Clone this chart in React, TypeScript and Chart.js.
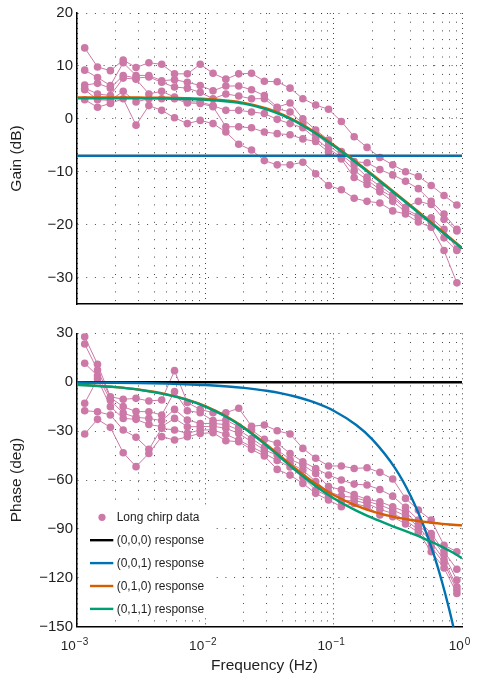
import React, { useEffect, useRef } from "react";
import { Chart, registerables } from "chart.js";

Chart.register(...registerables);

// ---------------- data ----------------
const CHIRP_FREQ = [
  0.001148, 0.001445, 0.00182, 0.002291, 0.002884, 0.003631, 0.004571, 0.005754, 0.007244, 0.00912,
  0.01148, 0.01445, 0.0182, 0.02291, 0.02884, 0.03631, 0.04571, 0.05754, 0.07244, 0.0912,
  0.1148, 0.1445, 0.182, 0.2291, 0.2884, 0.3631, 0.4571, 0.5754, 0.7244, 0.912,
];

const GAIN_RUN_1 = [13.4, 9.8, 9.1, 11.1, 9.7, 10.6, 10.3, 8.5, 8.5, 10.3, 8.6, 7.5, 8.5, 8.6, 7.1, 7.0, 5.8, 3.8, 2.6, 1.8, -0.5, -3.4, -5.4, -7.3, -8.7, -10.0, -10.9, -12.6, -14.5, -16.3];
const GAIN_RUN_2 = [9.2, 7.8, 6.3, 10.6, 8.2, 8.2, 7.2, 7.4, 6.9, 6.3, 5.3, 6.2, 6.2, 5.5, 4.4, 2.2, 3.0, 0.0, -2.1, -4.0, -6.2, -8.1, -8.3, -9.6, -10.6, -11.8, -13.2, -15.6, -18.0, -20.9];
const GAIN_RUN_3 = [6.4, 6.7, 5.8, 8.2, 7.7, 7.9, 6.9, 6.0, 5.8, 5.0, 3.8, 4.7, 4.3, 3.8, 3.8, 1.9, 1.3, -0.9, -2.8, -5.0, -6.8, -8.7, -11.0, -12.7, -14.4, -16.7, -15.6, -16.2, -19.0, -21.2];
const GAIN_RUN_4 = [5.8, 4.7, 4.4, 7.7, 7.5, 4.7, 5.2, 4.1, 3.2, 3.2, 2.5, 1.6, 1.6, 1.3, 1.0, -0.1, -0.9, -1.7, -3.7, -5.7, -7.2, -9.8, -11.5, -13.4, -14.8, -17.1, -18.3, -18.7, -20.9, -24.6];
const GAIN_RUN_5 = [5.5, 3.6, 3.5, 5.2, 3.2, 3.8, 3.8, 3.8, 3.0, 2.9, 2.3, -1.5, -1.5, -1.7, -2.5, -2.8, -3.0, -3.8, -4.3, -6.3, -7.6, -11.1, -12.4, -13.8, -15.6, -17.6, -18.6, -19.5, -22.5, -24.9];
const GAIN_RUN_6 = [3.6, 2.2, 2.9, 3.8, -1.2, 2.5, 1.6, 0.2, -0.9, -0.3, -0.9, -2.5, -4.8, -5.9, -7.9, -8.7, -8.7, -8.2, -10.4, -12.6, -13.4, -15.0, -15.6, -15.9, -17.4, -18.0, -19.5, -20.5, -24.9, -31.0];

const PHASE_RUN_1 = [27.9, 11.0, -8.9, -10.5, -9.9, -11.5, -10.9, 7.1, -12.5, -16.7, -18.7, -18.7, -16.0, -27.0, -26.3, -29.8, -31.8, -40.6, -46.7, -51.4, -51.4, -52.9, -52.5, -55.3, -59.4, -71.3, -78.4, -84.6, -100.0, -104.0];
const PHASE_RUN_2 = [23.4, 7.5, -9.5, -15.0, -18.0, -18.1, -20.1, -5.8, -17.5, -18.7, -23.6, -23.2, -27.3, -29.3, -35.1, -37.5, -43.7, -48.8, -52.9, -57.0, -60.0, -62.5, -63.1, -65.8, -69.9, -76.8, -84.6, -92.8, -104.0, -114.8];
const PHASE_RUN_3 = [11.6, 4.0, -11.0, -19.0, -21.6, -22.2, -23.6, -16.7, -23.2, -25.3, -25.3, -26.0, -29.3, -34.5, -39.9, -41.6, -47.3, -50.8, -56.0, -64.0, -66.0, -69.0, -71.9, -73.3, -76.4, -79.5, -87.6, -94.8, -106.0, -121.4];
const PHASE_RUN_4 = [-12.9, 2.0, -15.0, -22.2, -22.8, -25.9, -27.3, -22.2, -27.3, -27.3, -27.0, -28.3, -31.4, -36.5, -41.6, -44.7, -49.8, -53.9, -61.0, -67.2, -69.9, -70.7, -73.0, -75.4, -78.4, -82.0, -88.7, -98.0, -109.0, -125.5];
const PHASE_RUN_5 = [-17.5, -18.1, -20.1, -29.3, -33.8, -41.2, -28.3, -29.3, -31.4, -29.3, -29.3, -32.0, -35.5, -39.6, -43.7, -48.0, -52.0, -58.4, -66.2, -70.0, -73.0, -72.5, -74.4, -78.0, -80.5, -84.6, -90.5, -101.0, -111.0, -127.5];
const PHASE_RUN_6 = [-31.8, -22.8, -27.7, -43.3, -51.8, -43.7, -33.4, -35.5, -33.5, -31.4, -31.0, -35.9, -36.5, -41.2, -45.3, -53.5, -57.0, -62.1, -68.2, -72.3, -76.4, -74.4, -76.4, -81.5, -82.5, -87.0, -92.0, -104.0, -114.0, -129.6];

const MODEL_FREQ = [0.001, 0.002, 0.003, 0.005, 0.007, 0.01, 0.015, 0.02, 0.03, 0.04, 0.05, 0.07, 0.1, 0.15, 0.2, 0.3, 0.4, 0.5, 0.6, 0.7, 0.8, 0.9, 1.0];
const FLAT_FREQ = [0.001, 1.0];

const GAIN_000 = [-7.0, -7.0];
const GAIN_001 = [-7.0, -7.0];
const GAIN_010 = [4.05, 4.04, 4.02, 3.98, 3.9, 3.76, 3.42, 3.01, 1.95, 0.81, -0.31, -2.38, -4.94, -8.15, -10.53, -13.96, -16.43, -18.36, -19.93, -21.26, -22.42, -23.45, -24.36];
const GAIN_011 = [3.9, 3.89, 3.87, 3.83, 3.75, 3.61, 3.27, 2.86, 1.8, 0.66, -0.46, -2.53, -5.09, -8.3, -10.68, -14.11, -16.58, -18.51, -20.08, -21.41, -22.57, -23.6, -24.51];

const PHASE_000 = [0, 0];
const PHASE_001 = [-0.18, -0.35, -0.53, -0.88, -1.23, -1.75, -2.63, -3.51, -5.26, -7.01, -8.77, -12.27, -17.5, -26.3, -35.1, -52.6, -70.1, -87.7, -105.2, -122.7, -140.2, -157.8, -175.3];
const PHASE_010 = [-1.51, -3.01, -4.51, -7.5, -10.44, -14.74, -21.54, -27.76, -38.29, -46.47, -52.77, -61.5, -69.19, -75.78, -79.24, -82.78, -84.57, -85.65, -86.38, -86.89, -87.28, -87.58, -87.82];
const PHASE_011 = [-1.53, -3.05, -4.57, -7.6, -10.58, -14.94, -21.84, -28.16, -38.9, -47.28, -53.78, -62.91, -71.21, -78.81, -83.28, -88.84, -92.65, -95.75, -98.5, -101.03, -103.44, -105.76, -108.0];

const X_MAJOR_TICKS = [0.001, 0.01, 0.1, 1];
const X_MINOR_TICKS = [
  0.002, 0.003, 0.004, 0.005, 0.006, 0.007, 0.008, 0.009,
  0.02, 0.03, 0.04, 0.05, 0.06, 0.07, 0.08, 0.09,
  0.2, 0.3, 0.4, 0.5, 0.6, 0.7, 0.8, 0.9,
];
const X_TICK_BASE = "10";
const X_TICK_EXPONENTS = ["\u22123", "\u22122", "\u22121", "0"];
const GAIN_TICKS = [-30, -20, -10, 0, 10, 20];
const PHASE_TICKS = [-150, -120, -90, -60, -30, 0, 30];

const X_TITLE = "Frequency (Hz)";
const GAIN_TITLE = "Gain (dB)";
const PHASE_TITLE = "Phase (deg)";
const LEGEND_LABELS = ["Long chirp data", "(0,0,0) response", "(0,0,1) response", "(0,1,0) response", "(0,1,1) response"];

// ---------------- styles ----------------
const FONT = "'Liberation Sans', Arial, Helvetica, sans-serif";
const TXT = "#1f1f1f";
const PINK = "#CC79A7";
const BLACK = "#000000";
const BLUE = "#0072B2";
const ORANGE = "#D55E00";
const GREEN = "#009E73";
const GRID = "rgba(40,40,40,0.85)";
const MODEL_COLORS = [BLACK, BLUE, ORANGE, GREEN];

const pts = (xs: number[], ys: number[]) => xs.map((x, i) => ({ x, y: ys[i] }));
const fmt = (v: number) => (v < 0 ? "\u2212" + Math.abs(v) : String(v));

function runDataset(ys: number[]) {
  return {
    data: pts(CHIRP_FREQ, ys),
    borderColor: PINK,
    borderWidth: 1,
    pointRadius: 3.8,
    pointHoverRadius: 3.8,
    pointBackgroundColor: PINK,
    pointBorderWidth: 0,
    tension: 0,
    order: 10,
  };
}

function modelDataset(xs: number[], ys: number[], color: string, order: number) {
  return {
    data: pts(xs, ys),
    borderColor: color,
    backgroundColor: color,
    borderWidth: 2.4,
    pointRadius: 0,
    pointHoverRadius: 0,
    cubicInterpolationMode: "monotone",
    order,
  };
}

function xScale(height: number) {
  const all = [...X_MAJOR_TICKS, ...X_MINOR_TICKS].sort((a, b) => a - b);
  return {
    type: "logarithmic",
    min: 0.001,
    max: 1,
    afterBuildTicks: (s: any) => {
      s.ticks = all.map((v) => ({ value: v, major: X_MAJOR_TICKS.includes(v) }));
    },
    ticks: { display: false },
    grid: { color: GRID, lineWidth: 1, drawTicks: false },
    border: {
      display: true,
      color: "#000",
      width: 1.5,
      dash: (c: any) => (c.tick && c.tick.major ? [1, 4] : [1, 7.7]),
    },
    afterFit: (s: any) => {
      s.height = height;
    },
  };
}

function yScale(min: number, max: number, ticks: number[], title: string) {
  return {
    min,
    max,
    afterBuildTicks: (s: any) => {
      s.ticks = ticks.map((v) => ({ value: v }));
    },
    ticks: { font: { family: FONT, size: 15 }, color: TXT, padding: 4, callback: (v: any) => fmt(Number(v)) },
    title: { display: true, text: title, font: { family: FONT, size: 15.5 }, color: TXT, padding: { top: 7, bottom: 0 } },
    grid: { color: GRID, lineWidth: 1, drawTicks: false },
    border: { display: true, color: "#000", width: 1.5, dash: [1, 7.7] },
    afterFit: (s: any) => {
      s.width = 77;
    },
  };
}

const bottomDecor = {
  id: "bottomDecor",
  afterDraw(chart: any) {
    const { ctx, chartArea } = chart;
    const xs = chart.scales.x;
    ctx.save();
    // x tick labels with superscript exponents
    ctx.fillStyle = TXT;
    ctx.textBaseline = "alphabetic";
    ctx.textAlign = "left";
    X_MAJOR_TICKS.forEach((v, i) => {
      const px = xs.getPixelForValue(v);
      ctx.font = `13.5px ${FONT}`;
      const w1 = ctx.measureText(X_TICK_BASE).width;
      ctx.font = `10px ${FONT}`;
      const w2 = ctx.measureText(X_TICK_EXPONENTS[i]).width;
      const total = w1 + 1 + w2;
      const start = px - 2.5 - total / 2;
      ctx.font = `13.5px ${FONT}`;
      ctx.fillText(X_TICK_BASE, start, chartArea.bottom + 23.3);
      ctx.font = `10px ${FONT}`;
      ctx.fillText(X_TICK_EXPONENTS[i], start + w1 + 1, chartArea.bottom + 18.6);
    });
    // x title
    ctx.font = `15.5px ${FONT}`;
    ctx.textAlign = "center";
    ctx.fillText(X_TITLE, (chartArea.left + chartArea.right) / 2 - 5, chartArea.bottom + 43.6);

    // legend
    const L = chartArea.left;
    const T = chartArea.top;
    ctx.fillStyle = "#ffffff";
    ctx.fillRect(L + 7, T + 172, 126, 112);
    const step = 22.9;
    ctx.font = `12px ${FONT}`;
    ctx.textAlign = "left";
    ctx.textBaseline = "middle";
    LEGEND_LABELS.forEach((label, i) => {
      const y = T + 184 + i * step;
      if (i === 0) {
        ctx.fillStyle = PINK;
        ctx.beginPath();
        ctx.arc(L + 25, y, 3.6, 0, Math.PI * 2);
        ctx.fill();
      } else {
        ctx.strokeStyle = MODEL_COLORS[i - 1];
        ctx.lineWidth = 2.4;
        ctx.beginPath();
        ctx.moveTo(L + 13, y);
        ctx.lineTo(L + 36.3, y);
        ctx.stroke();
      }
      ctx.fillStyle = TXT;
      ctx.fillText(label, L + 39.7, y + 0.5);
    });
    ctx.restore();
  },
};

function baseOptions(yOpts: any, xHeight: number, padTop: number) {
  return {
    responsive: false,
    animation: false,
    events: [],
    layout: { padding: { top: padTop, right: 24, bottom: 0, left: 0 } },
    plugins: { legend: { display: false }, tooltip: { enabled: false } },
    scales: { x: xScale(xHeight), y: yOpts },
  };
}

export default function App() {
  const gainRef = useRef<HTMLCanvasElement | null>(null);
  const phaseRef = useRef<HTMLCanvasElement | null>(null);

  useEffect(() => {
    const gainChart = new Chart(gainRef.current as HTMLCanvasElement, {
      type: "line",
      data: {
        datasets: [
          runDataset(GAIN_RUN_1),
          runDataset(GAIN_RUN_2),
          runDataset(GAIN_RUN_3),
          runDataset(GAIN_RUN_4),
          runDataset(GAIN_RUN_5),
          runDataset(GAIN_RUN_6),
          modelDataset(FLAT_FREQ, GAIN_000, BLACK, 4),
          modelDataset(FLAT_FREQ, GAIN_001, BLUE, 3),
          modelDataset(MODEL_FREQ, GAIN_010, ORANGE, 2),
          modelDataset(MODEL_FREQ, GAIN_011, GREEN, 1),
        ] as any,
      },
      options: baseOptions(yScale(-35, 20, GAIN_TICKS, GAIN_TITLE), 16, 10) as any,
    });

    const phaseChart = new Chart(phaseRef.current as HTMLCanvasElement, {
      type: "line",
      data: {
        datasets: [
          runDataset(PHASE_RUN_1),
          runDataset(PHASE_RUN_2),
          runDataset(PHASE_RUN_3),
          runDataset(PHASE_RUN_4),
          runDataset(PHASE_RUN_5),
          runDataset(PHASE_RUN_6),
          modelDataset(FLAT_FREQ, PHASE_000, BLACK, 4),
          modelDataset(MODEL_FREQ, PHASE_001, BLUE, 3),
          modelDataset(MODEL_FREQ, PHASE_010, ORANGE, 2),
          modelDataset(MODEL_FREQ, PHASE_011, GREEN, 1),
        ] as any,
      },
      options: baseOptions(yScale(-150, 30, PHASE_TICKS, PHASE_TITLE), 51.3, 13.3) as any,
      plugins: [bottomDecor],
    });

    return () => {
      gainChart.destroy();
      phaseChart.destroy();
    };
  }, []);

  return (
    <div style={{ position: "absolute", left: 0, top: 0, width: 486, height: 678, background: "#fff" }}>
      <canvas ref={gainRef} width={486} height={320} style={{ position: "absolute", left: 0, top: 0, display: "block" }} />
      <canvas ref={phaseRef} width={486} height={358} style={{ position: "absolute", left: 0, top: 320, display: "block" }} />
    </div>
  );
}
